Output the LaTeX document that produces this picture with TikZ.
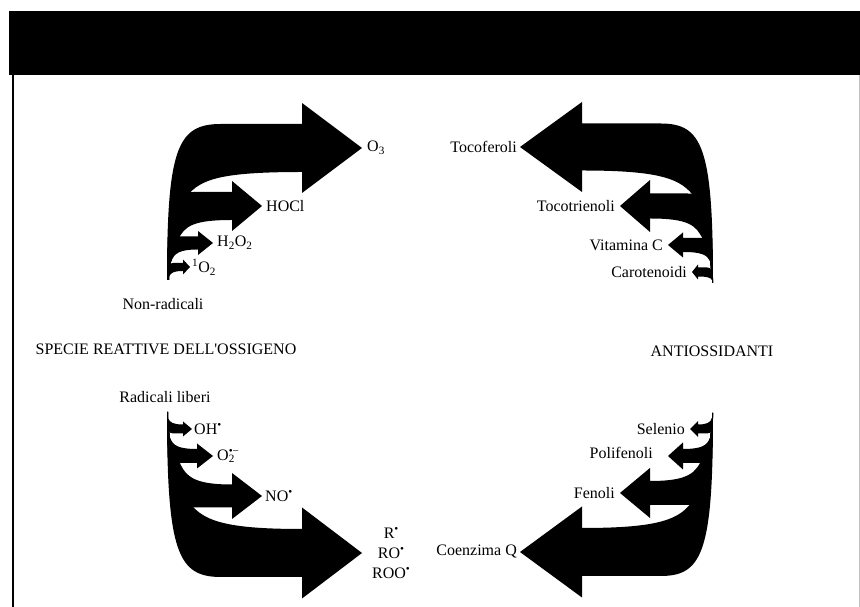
\documentclass[tikz,border=0pt]{standalone}
\usepackage{fontspec}
\setmainfont{Liberation Serif}
\usetikzlibrary{calc}
\tikzset{
  arrowfill/.style = {fill=black},
  frameline/.style = {line width=2pt, black},
  lbl/.style       = {font=\fontsize{16}{20}\selectfont, inner sep=1pt},
}
% curved arrow leaving a stem at (0,0): tip x, tip y, head back, head half,
% shaft half, cusp x, cusp y, name of the tip coordinate, way back down the stem
\newcommand{\branchsketch}[9]{%
  \pgfmathsetmacro{\shtop}{#2+#5}
  \pgfmathsetmacro{\shbot}{#2-#5}
  \pgfmathsetmacro{\hdtop}{#2+#4}
  \pgfmathsetmacro{\hdbot}{#2-#4}
  \pgfmathsetmacro{\knee}{0.4*#3}
  \fill[arrowfill] (0,0) .. controls (0,{0.85*\shtop}) and ({0.08*#3},\shtop) .. (\knee,\shtop)
    -- (#3,\shtop) -- (#3,\hdtop) -- (#1,#2) -- (#3,\hdbot) -- (#3,\shbot)
    .. controls ({0.4*#3},\shbot) and ({#6+0.1*#3},{\shbot-0.3*(\shbot-#7)}) .. (#6,#7)
    #9 -- cycle;
  \coordinate (#8) at (#1,#2);
}

\begin{document}
\begin{tikzpicture}[x=1pt,y=1pt]
  \useasboundingbox (0,0) rectangle (860,607);
  % frame
  \fill[black] (9,532) rectangle (860,596);
  \draw[frameline] (13,532) -- (13,0);
  \draw[gray!50, thin] (859,532) -- (859,0);

  % non-radicali
  \begin{scope}[shift={(167,327)}]
    \branchsketch{195}{132}{135}{45}{24}{20}{84}{tipOthree}{-- (11,40) -- (4,18) -- (2,3) -- (2,0)}
    \branchsketch{95}{74}{65}{25}{14}{11}{40}{tipHOCl}{-- (4,18) -- (2,3) -- (2,0)}
    \branchsketch{46}{37}{31}{12}{6.5}{4}{18}{tipHtwoOtwo}{-- (2,3) -- (2,0)}
    \branchsketch{23}{13}{16}{7.5}{4}{2}{3}{tipSinglet}{-- (2,0)}
  \end{scope}
  % antiossidanti, top
  \begin{scope}[shift={(713,324)}, xscale=-1]
    \branchsketch{193}{136}{131}{45}{23.5}{18}{85}{tipToco}{-- (10,43) -- (3,22) -- (1,3) -- (1,0)}
    \branchsketch{93}{77}{63}{26}{12.5}{10}{43}{tipTocot}{-- (3,22) -- (1,3) -- (1,0)}
    \branchsketch{45}{38}{30}{12.5}{7}{3}{22}{tipVitC}{-- (1,3) -- (1,0)}
    \branchsketch{21}{11}{15}{7.5}{4.5}{1}{3}{tipCarot}{-- (1,0)}
  \end{scope}
  % radicali liberi
  \begin{scope}[shift={(167,195)}, yscale=-1]
    \branchsketch{195}{141}{135}{45.5}{24}{20}{87}{tipRad}{-- (11,46) -- (3,26) -- (1,6) -- (1,0)}
    \branchsketch{95}{84}{65}{23}{11.5}{11}{46}{tipNO}{-- (3,26) -- (1,6) -- (1,0)}
    \branchsketch{46}{44}{30}{12.5}{7}{3}{26}{tipOtwo}{-- (1,6) -- (1,0)}
    \branchsketch{25}{17}{16}{7.5}{4.5}{1}{6}{tipOH}{-- (1,0)}
  \end{scope}
  % antiossidanti, bottom
  \begin{scope}[shift={(713,194)}, xscale=-1, yscale=-1]
    \branchsketch{193}{139}{131}{45.5}{24}{19}{86}{tipCoQ}{-- (10,43) -- (3,25) -- (1,5) -- (1,0)}
    \branchsketch{93}{80}{63}{25}{12}{10}{43}{tipFenoli}{-- (3,25) -- (1,5) -- (1,0)}
    \branchsketch{45}{43}{30}{13.5}{7}{3}{25}{tipPoli}{-- (1,5) -- (1,0)}
    \branchsketch{23}{16}{15}{8}{4.5}{1}{5}{tipSelenio}{-- (1,0)}
  \end{scope}

  % labels
  \node[lbl, anchor=west] (othree) at ($(tipOthree)+(4,0)$) {O\textsubscript{3}};
  \node[lbl, anchor=west] (hocl) at ($(tipHOCl)+(3,0)$) {HOCl};
  \node[lbl, anchor=west] (htwootwo) at ($(tipHtwoOtwo)+(3,0)$) {H\textsubscript{2}O\textsubscript{2}};
  \node[lbl, anchor=west] (singlet) at ($(tipSinglet)+(1,0)$) {\textsuperscript{1}O\textsubscript{2}};
  \node[lbl] (nonrad) at (163,303) {Non-radicali};
  \node[lbl] (ros) at (166,258) {SPECIE REATTIVE DELL\textquotesingle OSSIGENO};
  \node[lbl] (radlib) at (165,210) {Radicali liberi};
  \node[lbl, anchor=west] (oh) at ($(tipOH)+(1,0)$) {OH\textsuperscript{•}};
  \node[lbl, anchor=west] (otwo) at ($(tipOtwo)+(3,0)$) {O\rlap{\textsubscript{2}}\textsuperscript{•−}};
  \node[lbl, anchor=west] (no) at ($(tipNO)+(2,0)$) {NO\textsuperscript{•}};
  \node[lbl, anchor=west, align=center] (rad) at ($(tipRad)+(9,0)$) {R\textsuperscript{•}\\RO\textsuperscript{•}\\ROO\textsuperscript{•}};

  \node[lbl, anchor=east] (toco) at ($(tipToco)+(-2,0)$) {Tocoferoli};
  \node[lbl, anchor=east] (tocot) at ($(tipTocot)+(-4,0)$) {Tocotrienoli};
  \node[lbl, anchor=east] (vitc) at ($(tipVitC)+(-4,0)$) {Vitamina C};
  \node[lbl, anchor=east] (carot) at ($(tipCarot)+(-4,0)$) {Carotenoidi};
  \node[lbl] (antiox) at (712,256) {ANTIOSSIDANTI};
  \node[lbl, anchor=east] (selenio) at ($(tipSelenio)+(-4,0)$) {Selenio};
  \node[lbl, anchor=east] (poli) at ($(tipPoli)+(-14,3)$) {Polifenoli};
  \node[lbl, anchor=east] (fenoli) at ($(tipFenoli)+(-4,0)$) {Fenoli};
  \node[lbl, anchor=east] (coq) at ($(tipCoQ)+(-2,0)$) {Coenzima Q};
\end{tikzpicture}
\end{document}
